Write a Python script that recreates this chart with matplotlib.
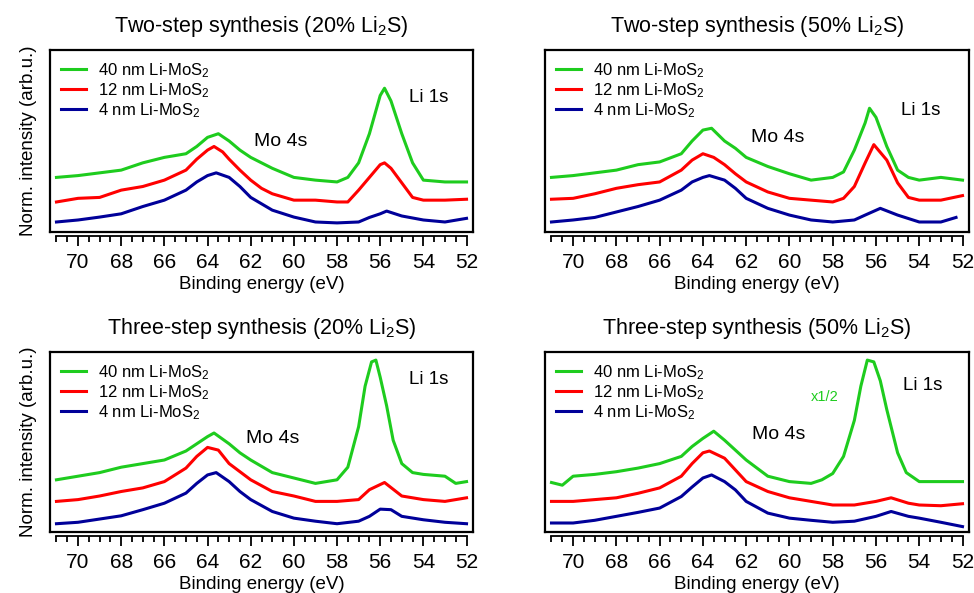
import numpy as np
import matplotlib
matplotlib.use('Agg')
import matplotlib.pyplot as plt
from matplotlib.ticker import MultipleLocator
from matplotlib.lines import Line2D

plt.rcParams['font.family'] = ['Liberation Sans', 'DejaVu Sans']
plt.rcParams['mathtext.default'] = 'regular'

# binding energy (eV) / normalized intensity (arb.u.)
# --- Two-step synthesis (20% Li2S)
tl_g_x = [71, 70, 68, 67, 66, 65, 64.5, 64, 63.5, 63, 62.5, 62, 61, 60, 59, 58, 57.5, 57, 56.5, 56, 55.8, 55.5, 55, 54.5, 54, 53, 52]
tl_g_y = [0.30, 0.31, 0.34, 0.38, 0.41, 0.43, 0.47, 0.52, 0.54, 0.50, 0.45, 0.41, 0.35, 0.30, 0.285, 0.275, 0.30, 0.38, 0.54, 0.75, 0.79, 0.72, 0.54, 0.38, 0.285, 0.275, 0.275]
tl_r_x = [71, 70, 69, 68, 67, 66, 65, 64.5, 64, 63.7, 63.3, 63, 62.5, 62, 61.5, 61, 60, 59, 58, 57.5, 57, 56.5, 56, 55.8, 55.5, 55, 54.5, 54, 53, 52]
tl_r_y = [0.165, 0.185, 0.19, 0.23, 0.25, 0.285, 0.34, 0.40, 0.45, 0.47, 0.44, 0.40, 0.34, 0.285, 0.24, 0.21, 0.175, 0.175, 0.165, 0.165, 0.23, 0.30, 0.37, 0.38, 0.35, 0.27, 0.19, 0.175, 0.175, 0.18]
tl_b_x = [71, 70, 69, 68, 67, 66, 65, 64.5, 64, 63.6, 63, 62.5, 62, 61, 60, 59, 58, 57, 56.5, 56, 55.7, 55, 54, 53, 52]
tl_b_y = [0.055, 0.066, 0.082, 0.10, 0.14, 0.175, 0.23, 0.275, 0.31, 0.325, 0.30, 0.25, 0.19, 0.12, 0.082, 0.055, 0.05, 0.055, 0.08, 0.10, 0.115, 0.088, 0.066, 0.055, 0.075]

# --- Two-step synthesis (50% Li2S)
tr_g_x = [71, 70, 68, 67, 66, 65, 64.5, 64, 63.6, 63, 62.5, 62, 61, 60, 59, 58, 57.5, 57, 56.5, 56.3, 56, 55.5, 55, 54.5, 54, 53, 52]
tr_g_y = [0.30, 0.31, 0.34, 0.37, 0.385, 0.43, 0.50, 0.56, 0.57, 0.50, 0.46, 0.41, 0.36, 0.32, 0.285, 0.30, 0.33, 0.45, 0.60, 0.68, 0.63, 0.47, 0.34, 0.30, 0.285, 0.30, 0.285]
tr_r_x = [71, 70, 69, 68, 67, 66, 65, 64.5, 64, 63.5, 63, 62.5, 62, 61, 60, 59, 58, 57.5, 57, 56.5, 56.1, 55.5, 55, 54.5, 54, 53, 52]
tr_r_y = [0.18, 0.185, 0.21, 0.24, 0.26, 0.275, 0.34, 0.395, 0.43, 0.41, 0.37, 0.32, 0.275, 0.22, 0.185, 0.175, 0.165, 0.185, 0.25, 0.38, 0.48, 0.395, 0.27, 0.19, 0.175, 0.175, 0.20]
tr_b_x = [71, 70, 69, 68, 67, 66, 65, 64.5, 64, 63.7, 63, 62.5, 62, 61, 60, 59, 58, 57, 56.5, 55.8, 55, 54, 53, 52.3]
tr_b_y = [0.055, 0.066, 0.08, 0.11, 0.14, 0.175, 0.23, 0.275, 0.30, 0.31, 0.285, 0.24, 0.185, 0.13, 0.093, 0.066, 0.055, 0.066, 0.093, 0.13, 0.093, 0.055, 0.055, 0.08]

# --- Three-step synthesis (20% Li2S)
bl_g_x = [71, 70, 69, 68, 67, 66, 65, 64.5, 64, 63.7, 63, 62.5, 62, 61, 60, 59, 58, 57.5, 57, 56.7, 56.4, 56.2, 56, 55.7, 55.4, 55, 54.5, 54, 53, 52.5, 52]
bl_g_y = [0.29, 0.31, 0.33, 0.36, 0.38, 0.40, 0.45, 0.49, 0.53, 0.55, 0.49, 0.44, 0.40, 0.33, 0.30, 0.27, 0.29, 0.36, 0.585, 0.81, 0.945, 0.955, 0.86, 0.70, 0.51, 0.38, 0.33, 0.32, 0.31, 0.27, 0.28]
bl_r_x = [71, 70, 69, 68, 67, 66, 65, 64.5, 64, 63.5, 63, 62.5, 62, 61, 60, 59, 58, 57, 56.5, 55.8, 55, 54, 53, 52]
bl_r_y = [0.17, 0.18, 0.20, 0.225, 0.245, 0.28, 0.355, 0.42, 0.47, 0.455, 0.38, 0.335, 0.29, 0.225, 0.20, 0.17, 0.17, 0.18, 0.235, 0.275, 0.20, 0.18, 0.17, 0.19]
bl_b_x = [71, 70, 69, 68, 67, 66, 65, 64.5, 64, 63.6, 63, 62.5, 62, 61, 60, 59, 58, 57, 56.5, 56, 55.5, 55, 54, 53, 52]
bl_b_y = [0.046, 0.054, 0.072, 0.09, 0.124, 0.16, 0.216, 0.27, 0.317, 0.33, 0.28, 0.225, 0.18, 0.114, 0.077, 0.06, 0.046, 0.06, 0.087, 0.127, 0.124, 0.087, 0.068, 0.054, 0.046]

# --- Three-step synthesis (50% Li2S), green shown x1/2
br_g_x = [71, 70.5, 70, 69, 68, 67, 66, 65, 64.5, 64, 63.5, 63, 62.5, 62, 61.5, 61, 60, 59, 58.5, 58, 57.5, 57, 56.7, 56.4, 56.1, 55.8, 55.5, 55, 54.6, 54, 53, 52]
br_g_y = [0.275, 0.26, 0.31, 0.32, 0.335, 0.355, 0.38, 0.42, 0.475, 0.52, 0.56, 0.51, 0.455, 0.40, 0.355, 0.31, 0.28, 0.27, 0.29, 0.325, 0.42, 0.62, 0.81, 0.955, 0.945, 0.84, 0.68, 0.44, 0.33, 0.28, 0.28, 0.28]
br_r_x = [71, 70, 69, 68, 67, 66, 65, 64.5, 64, 63.7, 63, 62.5, 62, 61, 60, 59, 58, 57, 56, 55.3, 54.5, 54, 53, 52]
br_r_y = [0.17, 0.17, 0.18, 0.19, 0.215, 0.245, 0.31, 0.38, 0.44, 0.45, 0.41, 0.345, 0.28, 0.225, 0.19, 0.17, 0.15, 0.15, 0.17, 0.19, 0.16, 0.15, 0.146, 0.157]
br_b_x = [71, 70, 69, 68, 67, 66, 65, 64.5, 64, 63.6, 63, 62.5, 62, 61, 60, 59, 58, 57, 56, 55.3, 54.5, 54, 53, 52]
br_b_y = [0.05, 0.05, 0.065, 0.087, 0.109, 0.133, 0.197, 0.25, 0.30, 0.317, 0.28, 0.234, 0.17, 0.105, 0.077, 0.065, 0.054, 0.06, 0.087, 0.114, 0.087, 0.077, 0.054, 0.03]

titles = ['Two-step synthesis (20% Li$_2$S)', 'Two-step synthesis (50% Li$_2$S)',
          'Three-step synthesis (20% Li$_2$S)', 'Three-step synthesis (50% Li$_2$S)']
labels = ['40 nm Li-MoS$_2$', '12 nm Li-MoS$_2$', '4 nm Li-MoS$_2$']
# annotation positions (eV, intensity)
mo_pos = [(60.6, 0.495), (60.55, 0.52), (61.0, 0.517), (60.5, 0.544)]
li_pos = [(53.75, 0.74), (53.95, 0.665), (53.75, 0.847), (53.85, 0.815)]

panels = [
    (tl_g_x, tl_g_y, tl_r_x, tl_r_y, tl_b_x, tl_b_y),
    (tr_g_x, tr_g_y, tr_r_x, tr_r_y, tr_b_x, tr_b_y),
    (bl_g_x, bl_g_y, bl_r_x, bl_r_y, bl_b_x, bl_b_y),
    (br_g_x, br_g_y, br_r_x, br_r_y, br_b_x, br_b_y),
]
colors = ['#1ecc1e', '#ff0000', '#000099']

W, H = 974, 593
boxes = [(50, 50, 423, 182), (545, 50, 424, 182), (50, 352, 423, 180), (545, 352, 424, 180)]

fig = plt.figure(figsize=(W / 100, H / 100), dpi=100)

for i, (px, py, pw, ph) in enumerate(boxes):
    ax = fig.add_axes([px / W, 1 - (py + ph) / H, pw / W, ph / H])
    gx, gy, rx, ry, bx, by = panels[i]
    ax.plot(gx, gy, color=colors[0], lw=2.2, label=labels[0])
    ax.plot(rx, ry, color=colors[1], lw=2.2, label=labels[1])
    ax.plot(bx, by, color=colors[2], lw=2.2, label=labels[2])
    ax.set_xlim(71.3, 51.7)
    ax.set_ylim(0, 1)

    for s in ['top', 'left', 'right']:
        ax.spines[s].set_linewidth(1.6)
    ax.spines['bottom'].set_position(('outward', 3))
    ax.spines['bottom'].set_bounds(52, 71)
    ax.spines['bottom'].set_linewidth(1.3)
    # closing line of the frame box
    ax.add_line(Line2D([0, 1], [0, 0], transform=ax.transAxes, color='black', lw=1.6, clip_on=False))

    ax.xaxis.set_major_locator(MultipleLocator(2))
    ax.xaxis.set_minor_locator(MultipleLocator(0.5))
    ax.tick_params(axis='x', which='major', length=7, width=1.3, labelsize=15, pad=5)
    ax.tick_params(axis='x', which='minor', length=4, width=1.3)
    ax.set_yticks([])
    ax.set_xlabel('Binding energy (eV)', fontsize=13.5, labelpad=3)
    if i % 2 == 0:
        ax.set_ylabel('Norm. intensity (arb.u.)', fontsize=13.5, labelpad=9)
    ax.set_title(titles[i], fontsize=15.5, pad=13)

    ax.legend(loc='upper left', frameon=False, fontsize=12, handlelength=1.5,
              handletextpad=0.75, labelspacing=0.08, borderaxespad=0.25)
    ax.text(mo_pos[i][0], mo_pos[i][1], 'Mo 4s', fontsize=14, ha='center', va='center')
    ax.text(li_pos[i][0], li_pos[i][1], 'Li 1s', fontsize=13.5, ha='center', va='center')
    if i == 3:
        ax.text(58.37, 0.75, 'x1/2', fontsize=10.5, color=colors[0], ha='center', va='center')

fig.savefig('out.png', dpi=100)
